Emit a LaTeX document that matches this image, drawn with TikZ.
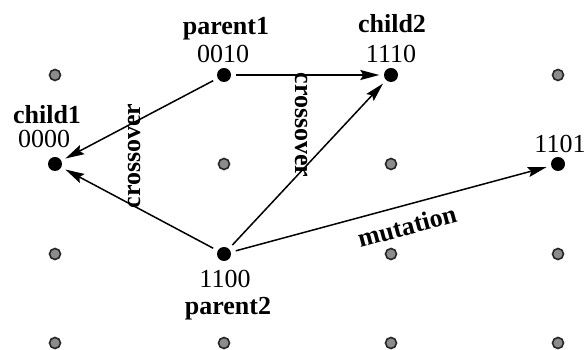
\documentclass[tikz,border=0pt]{standalone}
\usepackage{fontspec}
\setmainfont{Liberation Serif}
\usetikzlibrary{arrows.meta}
\begin{document}
\begin{tikzpicture}[x=1pt,y=1pt,
  gdot/.style={circle,draw=black!85,line width=1.6pt,fill=black!45,minimum size=11pt,inner sep=0pt},
  bdot/.style={circle,fill=black,minimum size=14pt,inner sep=0pt},
  lbl/.style={font=\fontsize{26}{30}\selectfont\bfseries,inner sep=0pt,anchor=base},
  num/.style={font=\fontsize{26}{30}\selectfont,inner sep=0pt,anchor=base},
  rlbl/.style={font=\fontsize{26}{30}\selectfont\bfseries,inner sep=0pt},
  arr/.style={line width=1.5pt,-{Stealth[length=19pt,width=10pt,inset=3pt]},shorten >=4.5pt,shorten <=5pt}]
\useasboundingbox (0,0) rectangle (587,350);
% gray grid dots
\node[gdot] (g11) at (55,275) {};
\node[gdot] (g14) at (558,275) {};
\node[gdot] (g22) at (224,186) {};
\node[gdot] (g23) at (391,186) {};
\node[gdot] (g31) at (55,96) {};
\node[gdot] (g33) at (391,96) {};
\node[gdot] (g34) at (558,96) {};
\node[gdot] (g41) at (55,7) {};
\node[gdot] (g42) at (224,7) {};
\node[gdot] (g43) at (391,7) {};
\node[gdot] (g44) at (558,7) {};
% black dots
\node[bdot] (p1) at (224,275) {};
\node[bdot] (c2) at (391,275) {};
\node[bdot] (c1) at (55,186) {};
\node[bdot] (m) at (558,186) {};
\node[bdot] (p2) at (224,96) {};
% labels
\node[lbl] (tp1) at (226,315) {parent1};
\node[num] (np1) at (223,287) {0010};
\node[lbl] (tc1) at (47,226) {child1};
\node[num] (nc1) at (44,202) {0000};
\node[lbl] (tc2) at (392,317) {child2};
\node[num] (nc2) at (391,287) {1110};
\node[num] (nm) at (560,197) {1101};
\node[num] (np2) at (225,62) {1100};
\node[lbl] (tp2) at (228,35) {parent2};
% arrows
\draw[arr] (p1) -- (c1);
\draw[arr] (p1) -- (c2);
\draw[arr] (p2) -- (c1);
\draw[arr] (p2) -- (c2);
\draw[arr] (p2) -- (m);
% arrow labels
\node[rlbl,rotate=90] (x1) at (134,194) {crossover};
\node[rlbl,rotate=-90] (x2) at (302,225) {crossover};
\node[rlbl,rotate=15] (mu) at (407,124) {mutation};
\end{tikzpicture}
\end{document}
